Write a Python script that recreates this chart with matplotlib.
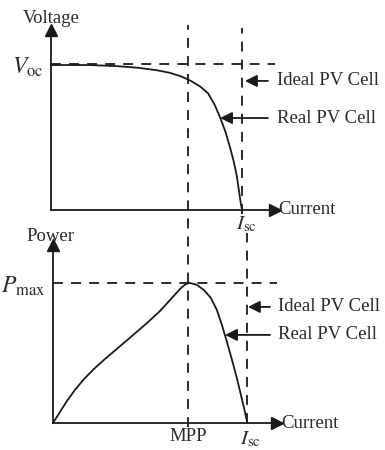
import matplotlib.pyplot as plt
import numpy as np

plt.rcParams['font.family'] = ['Liberation Serif', 'DejaVu Serif']
plt.rcParams['mathtext.fontset'] = 'stix'

# I-V curve of the real cell (current normalised to Isc, voltage to Voc)
iv_current = [0, 0.2, 0.35, 0.45, 0.55, 0.62, 0.68, 0.73, 0.78, 0.82, 0.855,
              0.883, 0.91, 0.935, 0.955, 0.971, 0.983, 0.992, 0.997]
iv_voltage = [0.993, 0.993, 0.985, 0.975, 0.958, 0.94, 0.915, 0.885, 0.845, 0.80, 0.72,
              0.635, 0.54, 0.43, 0.33, 0.23, 0.12, 0.04, 0.007]

# P-I curve of the real cell (power normalised to Pmax)
pi_current = [0, 0.036, 0.072, 0.113, 0.16, 0.211, 0.268, 0.335, 0.407, 0.479,
              0.552, 0.613, 0.66, 0.686, 0.706, 0.742, 0.778, 0.814, 0.845,
              0.871, 0.897, 0.923, 0.948, 0.969, 0.985, 1.0]
pi_power = [0, 0.079, 0.157, 0.236, 0.314, 0.386, 0.457, 0.536, 0.621, 0.707,
            0.8, 0.893, 0.964, 0.993, 1.0, 0.986, 0.95, 0.893, 0.807,
            0.7, 0.579, 0.45, 0.321, 0.2, 0.107, 0.014]

voc = 1.0
pmax = 1.0
isc = 1.0
mpp = 0.695

ink = '#1a1a1a'
txt = '#2a2a2a'
dash = (0, (5.5, 4.5))
fs = 13.5

fig = plt.figure(figsize=(3.85, 4.5), dpi=100)
W, H = 385, 450


def make_axes(x0, y0, x1, y1):
    ax = fig.add_axes([x0 / W, 1 - y0 / H, (x1 - x0) / W, (y0 - y1) / H])
    ax.patch.set_alpha(0)
    for s in ['top', 'right']:
        ax.spines[s].set_visible(False)
    for s in ['left', 'bottom']:
        ax.spines[s].set_color(ink)
        ax.spines[s].set_linewidth(1.3)
    ax.set_xticks([])
    ax.set_yticks([])
    ax.plot(1, 0, '>', color=ink, ms=9, transform=ax.get_yaxis_transform(), clip_on=False)
    ax.plot(0, 1, '^', color=ink, ms=9, transform=ax.get_xaxis_transform(), clip_on=False)
    return ax


def pointer(ax, label, tip, tail_x, text_x):
    ax.annotate('', xy=tip, xytext=(tail_x, tip[1]),
                arrowprops=dict(arrowstyle='-|>', color=ink, lw=1.3, mutation_scale=18,
                                shrinkA=0, shrinkB=0), annotation_clip=False)
    ax.text(text_x, tip[1], label, fontsize=fs, color=txt, ha='left', va='center')


# top panel: voltage vs current
ax1 = make_axes(51, 210, 275, 30)
ax1.set_xlim(0, 1.17)
ax1.set_ylim(0, 1.233)
ax1.plot(iv_current, iv_voltage, color=ink, lw=1.3, clip_on=False)
ax1.axhline(voc, xmin=0, xmax=1, color=ink, lw=1.3, ls=dash)
ax1.axvline(isc, ymin=-0.02, ymax=1.01, color=ink, lw=1.3, ls=dash, clip_on=False)
ax1.text(0, 1.315, 'Voltage', fontsize=fs, color=txt, ha='center', va='center')
ax1.text(-0.04, 0.975, r'$V_{\rm oc}$', fontsize=17, color=txt, ha='right', va='center')
ax1.text(1.185, 0, 'Current', fontsize=fs, color=txt, ha='left', va='center')
ax1.text(1.02, -0.1, r'$I_{\rm sc}$', fontsize=15, color=txt, ha='center', va='center')
pointer(ax1, 'Ideal PV Cell', (1.013, 0.884), 1.133, 1.18)
pointer(ax1, 'Real PV Cell', (0.883, 0.630), 1.133, 1.18)

# bottom panel: power vs current
ax2 = make_axes(53, 423, 277, 245)
ax2.set_xlim(0, 1.155)
ax2.set_ylim(0, 1.271)
ax2.plot(pi_current, pi_power, color=ink, lw=1.3, clip_on=False)
ax2.axhline(pmax, xmin=0, xmax=1, color=ink, lw=1.3, ls=dash)
ax2.axvline(isc, ymin=0, ymax=1.07, color=ink, lw=1.3, ls=dash, clip_on=False)
ax2.axvline(mpp, ymin=-0.02, ymax=2.236, color=ink, lw=1.3, ls=dash, clip_on=False)
ax2.text(-0.015, 1.33, 'Power', fontsize=fs, color=txt, ha='center', va='center')
ax2.text(-0.04, 0.975, r'$P_{\rm max}$', fontsize=17, color=txt, ha='right', va='center')
ax2.text(1.175, 0, 'Current', fontsize=fs, color=txt, ha='left', va='center')
ax2.text(mpp, -0.095, 'MPP', fontsize=fs, color=txt, ha='center', va='center')
ax2.text(1.02, -0.12, r'$I_{\rm sc}$', fontsize=15, color=txt, ha='center', va='center')
pointer(ax2, 'Ideal PV Cell', (1.005, 0.829), 1.119, 1.16)
pointer(ax2, 'Real PV Cell', (0.887, 0.629), 1.119, 1.16)

fig.savefig('out.png', dpi=100)
